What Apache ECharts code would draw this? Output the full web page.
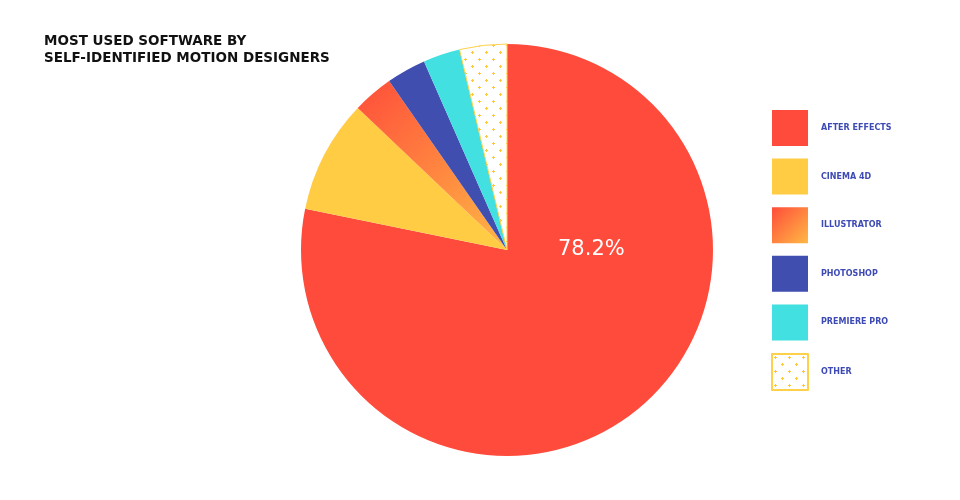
<!DOCTYPE html>
<html>
<head>
<meta charset="utf-8">
<script src="https://cdn.jsdelivr.net/npm/echarts@6/dist/echarts.min.js"></script>
<style>
  html, body { margin: 0; padding: 0; background: #fff; }
  #main { width: 960px; height: 500px; }
</style>
</head>
<body>
<div id="main"></div>
<script>
// data
var software = ['AFTER EFFECTS', 'CINEMA 4D', 'ILLUSTRATOR', 'PHOTOSHOP', 'PREMIERE PRO', 'OTHER'];
var shares = [78.2, 8.9, 3.2, 3.1, 2.9, 3.7];
var colors = ['#ff4b3b', '#ffcc44', null, '#404eb0', '#42e0e0', null];

// dotted pattern for "other"
function dotPattern() {
  var c = document.createElement('canvas');
  c.width = 14; c.height = 14;
  var ctx = c.getContext('2d');
  ctx.fillStyle = '#fff';
  ctx.fillRect(0, 0, 14, 14);
  ctx.fillStyle = '#ffc83a';
  [[3, 3], [10, 10]].forEach(function (p) {
    ctx.fillRect(p[0] - 1, p[1], 3, 1);
    ctx.fillRect(p[0], p[1] - 1, 1, 3);
  });
  return c;
}

var illustratorFill = new echarts.graphic.LinearGradient(0, 0, 1, 1, [
  { offset: 0, color: '#ff4d3a' },
  { offset: 1, color: '#ffb845' }
]);

var pieData = software.map(function (name, i) {
  var style = { color: colors[i], borderWidth: 0 };
  if (i === 2) style.color = illustratorFill;
  if (i === 5) {
    style.color = { image: dotPattern(), repeat: 'repeat' };
    style.borderColor = '#ffd04a';
    style.borderWidth = 1;
  }
  return { name: name, value: shares[i], itemStyle: style };
});

var chart = echarts.init(document.getElementById('main'));
chart.setOption({
  animation: false,
  title: {
    text: 'MOST USED SOFTWARE BY\nSELF-IDENTIFIED MOTION DESIGNERS',
    left: 44,
    top: 33,
    padding: 0,
    textStyle: {
      fontFamily: 'DejaVu Sans',
      fontWeight: 'bold',
      fontSize: 13.5,
      lineHeight: 17,
      color: '#111'
    }
  },
  legend: {
    orient: 'vertical',
    left: 771,
    top: 110,
    padding: 0,
    itemWidth: 36,
    itemHeight: 36,
    itemGap: 12.6,
    icon: 'rect',
    selectedMode: false,
    data: software,
    textStyle: {
      fontFamily: 'DejaVu Sans',
      fontWeight: 'bold',
      fontSize: 8,
      color: '#3d4ab4',
      padding: [0, 0, 0, 8]
    }
  },
  graphic: [{
    type: 'text',
    z: 100,
    style: {
      x: 558,
      y: 250,
      verticalAlign: 'middle',
      text: shares[0] + '%',
      fill: '#fff',
      font: '21px "DejaVu Sans"'
    }
  }],
  series: [{
    type: 'pie',
    center: [507, 250],
    radius: 206,
    startAngle: 90,
    clockwise: true,
    label: { show: false },
    labelLine: { show: false },
    emphasis: { disabled: true },
    data: pieData
  }]
});
</script>
</body>
</html>
